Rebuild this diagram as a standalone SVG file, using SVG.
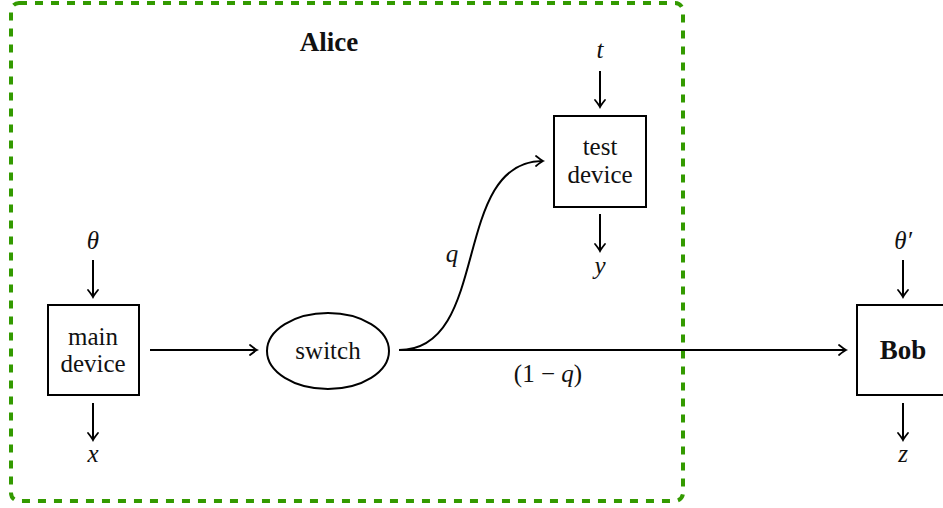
<svg xmlns="http://www.w3.org/2000/svg" width="943" height="508" viewBox="0 0 943 508">
<style>
.box{fill:#fff;stroke:#000;stroke-width:2}
.ln{fill:none;stroke:#000;stroke-width:2;marker-end:url(#arr)}
.t{font-family:'Liberation Serif','DejaVu Serif',serif;font-size:25px;fill:#111;text-anchor:middle}
.m{font-style:italic}
.b{font-weight:bold;font-size:27px}
</style>
<defs>
<marker id="arr" markerUnits="userSpaceOnUse" markerWidth="14" markerHeight="14" viewBox="-10 -7 14 14" refX="0" refY="0" orient="auto">
<path d="M-7,-5 Q-2,-1 0,0 Q-2,1 -7,5" fill="none" stroke="#000" stroke-width="1.8" stroke-linecap="round"/>
</marker>
</defs>
<rect x="11" y="3" width="672" height="498" rx="8" fill="none" stroke="#339a00" stroke-width="4" stroke-dasharray="8 8"/>
<text class="t b" x="329" y="51">Alice</text>
<g id="connectors">
<line class="ln" x1="93" y1="260" x2="93" y2="297"/>
<line class="ln" x1="93" y1="403" x2="93" y2="440"/>
<line class="ln" x1="150" y1="350" x2="257" y2="350"/>
<path class="ln" d="M399,350 C492,350 450,161 543,161"/>
<line class="ln" x1="399" y1="350" x2="846" y2="350"/>
<line class="ln" x1="600" y1="71" x2="600" y2="107"/>
<line class="ln" x1="600" y1="214" x2="600" y2="251"/>
<line class="ln" x1="903" y1="260" x2="903" y2="297"/>
<line class="ln" x1="903" y1="403" x2="903" y2="440"/>
<text class="t m" x="452" y="262">q</text>
<text class="t" x="548" y="382">(1 − <tspan class="m">q</tspan>)</text>
</g>
<g id="main">
<rect class="box" x="48" y="305" width="91" height="90"/>
<text class="t" x="93" y="345">main</text>
<text class="t" x="93" y="372">device</text>
<text class="t m" x="93" y="249">θ</text>
<text class="t m" x="93" y="462">x</text>
</g>
<g id="switch">
<ellipse class="box" cx="328" cy="351" rx="61" ry="38"/>
<text class="t" x="328" y="359">switch</text>
</g>
<g id="test">
<rect class="box" x="554" y="116" width="92" height="91"/>
<text class="t" x="600" y="155">test</text>
<text class="t" x="600" y="183">device</text>
<text class="t m" x="600" y="58">t</text>
<text class="t m" x="600" y="274">y</text>
</g>
<g id="bob">
<rect class="box" x="857" y="305" width="93" height="90"/>
<text class="t b" x="903" y="359">Bob</text>
<text class="t m" x="903" y="249">θ′</text>
<text class="t m" x="903" y="462">z</text>
</g>
</svg>
